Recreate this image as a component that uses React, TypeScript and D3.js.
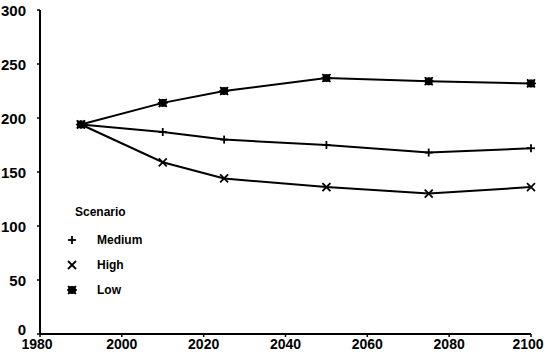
import React from "react";
import * as d3 from "d3";

const years = [1990, 2010, 2025, 2050, 2075, 2100];
const medium = [194, 187, 180, 175, 168, 172];
const high = [194, 159, 144, 136, 130, 136];
const low = [194, 214, 225, 237, 234, 232];
const xTicks = [1980, 2000, 2020, 2040, 2060, 2080, 2100];
const yTicks = [0, 50, 100, 150, 200, 250, 300];
const seriesNames = ["Medium", "High", "Low"];

const W = 550, H = 356;
const x = d3.scaleLinear().domain([1980, 2100]).range([40, 531]);
const y = d3.scaleLinear().domain([0, 300]).range([334, 10]);

function Marker({ kind, cx, cy }: { kind: string; cx: number; cy: number }) {
  const s = 4;
  if (kind === "Medium") {
    return (
      <g stroke="#000" strokeWidth={1.8}>
        <line x1={cx - s} x2={cx + s} y1={cy} y2={cy} />
        <line x1={cx} x2={cx} y1={cy - s} y2={cy + s} />
      </g>
    );
  }
  if (kind === "High") {
    return (
      <g stroke="#000" strokeWidth={1.8}>
        <line x1={cx - s} x2={cx + s} y1={cy - s} y2={cy + s} />
        <line x1={cx - s} x2={cx + s} y1={cy + s} y2={cy - s} />
      </g>
    );
  }
  return (
    <g stroke="#000" strokeWidth={1.6}>
      <rect x={cx - 3} y={cy - 3} width={6} height={6} fill="#000" />
      <line x1={cx - s - 1} x2={cx + s + 1} y1={cy} y2={cy} />
      <line x1={cx} x2={cx} y1={cy - s} y2={cy + s} />
      <line x1={cx - s} x2={cx + s} y1={cy - s} y2={cy + s} />
      <line x1={cx - s} x2={cx + s} y1={cy + s} y2={cy - s} />
    </g>
  );
}

export default function App() {
  const data = [medium, high, low];
  const line = d3
    .line<number>()
    .x((_, i) => x(years[i]))
    .y((d) => y(d));
  const font = "'Liberation Sans', Arial, sans-serif";
  return (
    <svg
      width={W}
      height={H}
      style={{ position: "absolute", left: 0, top: 0, background: "#fff" }}
      fontFamily={font}
    >
      <rect width={W} height={H} fill="#fff" />
      {/* axes */}
      <line x1={x(1980)} x2={x(1980)} y1={y(300)} y2={y(0)} stroke="#000" strokeWidth={2} />
      <line x1={x(1980)} x2={x(2100)} y1={y(0)} y2={y(0)} stroke="#000" strokeWidth={2} />
      {yTicks.map((t) => (
        <g key={"y" + t}>
          <line x1={x(1980) - 3} x2={x(1980)} y1={y(t)} y2={y(t)} stroke="#000" strokeWidth={1.5} />
          <text
            x={26}
            y={y(t) - (t === 0 ? 5 : 0)}
            textAnchor="end"
            dominantBaseline="central"
            fontSize={15}
            fontWeight="bold"
          >
            {t}
          </text>
        </g>
      ))}
      {xTicks.map((t) => (
        <g key={"x" + t}>
          <line x1={x(t)} x2={x(t)} y1={y(0)} y2={y(0) + 3} stroke="#000" strokeWidth={1.5} />
          <text
            x={x(t) + (t === 1980 ? -3 : t === 2100 ? -3 : 0)}
            y={y(0) + 10}
            textAnchor="middle"
            dominantBaseline="central"
            fontSize={14}
            fontWeight="bold"
          >
            {t}
          </text>
        </g>
      ))}
      {/* series */}
      {data.map((vals, k) => (
        <g key={seriesNames[k]}>
          <path d={line(vals) || ""} fill="none" stroke="#000" strokeWidth={2} />
          {vals.map((v, i) => (
            <Marker key={i} kind={seriesNames[k]} cx={x(years[i])} cy={y(v)} />
          ))}
        </g>
      ))}
      {/* legend */}
      <text x={75} y={212} dominantBaseline="central" fontSize={12} fontWeight="bold">
        Scenario
      </text>
      {seriesNames.map((n, i) => (
        <g key={"lg" + n}>
          <Marker kind={n} cx={72} cy={240 + i * 25} />
          <text x={97} y={240 + i * 25} dominantBaseline="central" fontSize={12} fontWeight="bold">
            {n}
          </text>
        </g>
      ))}
    </svg>
  );
}
